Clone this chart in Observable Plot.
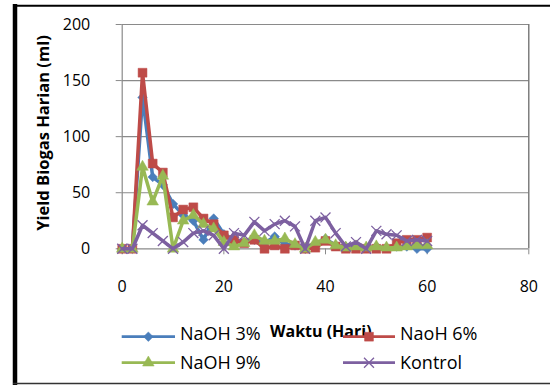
<!DOCTYPE html>
<html>
<head>
<meta charset="utf-8">
<script src="https://cdn.jsdelivr.net/npm/d3@7"></script>
<script src="https://cdn.jsdelivr.net/npm/@observablehq/plot@0.6"></script>
<style>
  body { margin: 0; background: #fff; }
  #wrap { position: relative; width: 550px; height: 387px; overflow: hidden; font-family: "Open Sans", sans-serif; background: #fff; }
  #wrap > svg { position: absolute; left: 0; top: 0; }
</style>
</head>
<body>
<div id="wrap"></div>
<script>
// ---- data ----
const days    = [0, 2, 4, 6, 8, 10, 12, 14, 16, 18, 20, 22, 24, 26, 28, 30, 32, 34, 36, 38, 40, 42, 44, 46, 48, 50, 52, 54, 56, 58, 60];
const naoh3   = [0, 0, 135, 64, 57, 40, 30, 25, 8, 27, 13, 8, 6, 8, 5, 11, 4, 3, 0, 4, 9, 3, 2, 1, 1, 2, 1, 2, 2, 0, 0];
const naoh6   = [0, 0, 157, 76, 68, 28, 35, 37, 27, 22, 12, 8, 5, 8, 0, 3, 0, 3, 0, 1, 7, 2, 0, 0, 0, 0, 0, 5, 8, 8, 10];
const naoh9   = [0, 0, 73, 42, 65, 0, 25, 30, 22, 18, 6, 2, 5, 12, 7, 7, 9, 4, 0, 6, 8, 3, 1, 2, 1, 2, 1, 1, 2, 3, 3];
const kontrol = [0, 0, 21, 14, 7, 0, 6, 14, 16, 12, 0, 14, 12, 24, 16, 22, 25, 20, 0, 25, 28, 14, 2, 6, 0, 16, 13, 12, 7, 8, 7];
const seriesNames = ["NaOH 3%", "NaoH 6%", "NaOH 9%", "Kontrol"];
const xTicks = [0, 20, 40, 60, 80];
const yTicks = [0, 50, 100, 150, 200];
const xTitle = "Waktu (Hari)";
const yTitle = "Yield Biogas Harian (ml)";

// ---- styles ----
const colors  = ["#4A7EBB", "#BE4B48", "#98B954", "#7D60A0"];
const symbols = ["diamond2", "square", "triangle", "times"];
const radii   = [4.3, 5.0, 4.3, 4.6];

const allSeries = [naoh3, naoh6, naoh9, kontrol].map((vals, i) =>
  vals.map((v, j) => ({ day: days[j], y: v, s: seriesNames[i] })));

const seriesMarks = allSeries.flatMap((data, i) => [
  Plot.line(data, { x: "day", y: "y", stroke: colors[i], strokeWidth: 3.5, strokeLinejoin: "round" }),
  Plot.dot(data, {
    x: "day", y: "y", symbol: symbols[i], r: radii[i],
    fill: i === 3 ? "none" : colors[i],
    stroke: colors[i], strokeWidth: i === 3 ? 1.3 : 0.5
  })
]);

const chart = Plot.plot({
  width: 550, height: 387,
  marginLeft: 121.7, marginRight: 21.7, marginTop: 24, marginBottom: 138.7,
  style: { fontFamily: "Open Sans, sans-serif", fontSize: "16px", color: "#000", background: "transparent" },
  x: { domain: [0, 80] },
  y: { domain: [0, 200] },
  marks: [
    Plot.gridY(yTicks.slice(1), { stroke: "#8a8a8a", strokeOpacity: 1, strokeWidth: 1.2 }),
    Plot.ruleX([80], { stroke: "#6a6a6a", strokeWidth: 1.3 }),
    Plot.ruleX([0], { stroke: "#8a8a8a", strokeWidth: 1.2 }),
    Plot.ruleY([0], { stroke: "#8a8a8a", strokeWidth: 1.2 }),
    Plot.axisY({ ticks: yTicks, tickSize: 6, tickPadding: 26, label: null, stroke: "#8a8a8a", fill: "#000", tickFormat: d3.format("d") }),
    Plot.axisX({ ticks: xTicks, tickSize: 6, tickPadding: 26, label: null, stroke: "#8a8a8a", fill: "#000", tickFormat: d3.format("d") }),
    ...seriesMarks
  ]
});
document.getElementById("wrap").appendChild(chart);

// ---- overlay: frame, axis titles, legend ----
const ov = d3.select("#wrap").append("svg").attr("width", 550).attr("height", 387)
  .style("font-family", "Open Sans, sans-serif");
ov.append("line").attr("x1", 15).attr("x2", 15).attr("y1", 4).attr("y2", 385).attr("stroke", "#000").attr("stroke-width", 4.5);
ov.append("line").attr("x1", 13).attr("x2", 550).attr("y1", 5.8).attr("y2", 5.8).attr("stroke", "#000").attr("stroke-width", 2);
ov.append("line").attr("x1", 13).attr("x2", 550).attr("y1", 383.5).attr("y2", 383.5).attr("stroke", "#333").attr("stroke-width", 1.6);

ov.append("text").attr("transform", "translate(49,133) rotate(-90)")
  .attr("text-anchor", "middle").attr("font-weight", "bold").attr("font-size", 16.5).attr("fill", "#000").text(yTitle);
ov.append("text").attr("x", 270).attr("y", 337.3)
  .attr("font-weight", "bold").attr("font-size", 16).attr("fill", "#000").text(xTitle);

const legPos = [
  { x1: 121.7, x2: 175, tx: 180, y: 336.7, ty: 340.4 },
  { x1: 343, x2: 395, tx: 400, y: 336.7, ty: 340.4 },
  { x1: 121.7, x2: 175, tx: 180, y: 362.7, ty: 369 },
  { x1: 343, x2: 395, tx: 400, y: 362.7, ty: 369 }
];
const symMap = { diamond2: d3.symbolDiamond2, square: d3.symbolSquare, triangle: d3.symbolTriangle, times: d3.symbolTimes };
seriesNames.forEach((name, i) => {
  const p = legPos[i];
  const g = ov.append("g");
  g.append("line").attr("x1", p.x1).attr("x2", p.x2).attr("y1", p.y).attr("y2", p.y)
    .attr("stroke", colors[i]).attr("stroke-width", 2.8);
  g.append("path")
    .attr("transform", `translate(${(p.x1 + p.x2) / 2},${p.y})`)
    .attr("d", d3.symbol(symMap[symbols[i]], Math.PI * radii[i] * radii[i])())
    .attr("fill", i === 3 ? "none" : colors[i]).attr("stroke", colors[i]).attr("stroke-width", i === 3 ? 1.3 : 0.5);
  g.append("text").attr("x", p.tx).attr("y", p.ty).attr("font-size", 18).attr("fill", "#000").text(name);
});
</script>
</body>
</html>
